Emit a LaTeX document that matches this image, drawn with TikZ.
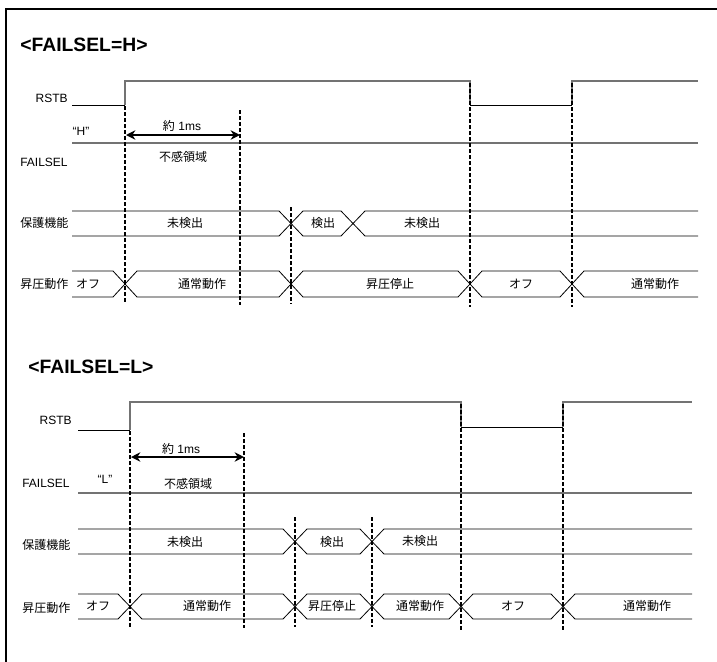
\documentclass[tikz,border=0pt]{standalone}
\usepackage{fontspec}
\setmainfont{Liberation Sans}
\newfontfamily\jp{Noto Sans CJK JP}
\usetikzlibrary{arrows.meta}
\begin{document}
\begin{tikzpicture}[x=0.75pt,y=-0.75pt,
  sig/.style={line width=0.6pt,black},
  hi/.style={line width=0.9pt,black!55},
  bus/.style={line width=0.6pt,black},
  dsh/.style={line width=1.7pt,black,dash pattern=on 3pt off 1.5pt},
  lbl/.style={font=\fontsize{9}{10}\selectfont,inner sep=0pt},
  jl/.style={font=\fontsize{9}{10}\selectfont\jp,inner sep=0pt},
  ttl/.style={font=\fontsize{14.5}{16}\selectfont\bfseries,inner sep=0pt,anchor=west},
  dim/.style={line width=1.5pt,{Stealth[length=7pt,width=7pt]}-{Stealth[length=7pt,width=7pt]}}]
\useasboundingbox (0,0) rectangle (717,661);
% frame
\draw[line width=1.6pt] (6,670) -- (6,9) -- (730,9);

% ================= FAILSEL = H =================
\node[ttl] (t1) at (20,45) {<FAILSEL=H>};
\node[lbl,anchor=east] (r1) at (68,98) {RSTB};
\node[lbl,anchor=west] (f1) at (20,162) {FAILSEL};
\node[lbl] (h1) at (81,131) {“H”};
\node[jl,anchor=west] (p1) at (20,223) {保護機能};
\node[jl,anchor=west] (s1) at (20,284) {昇圧動作};

% RSTB
\draw[sig] (72,105) -- (125,105);
\draw[hi] (125,105) -- (125,81) -- (470,81) -- (470,105);
\draw[sig] (470,105) -- (572,105);
\draw[hi] (572,105) -- (572,81) -- (698,81);
% FAILSEL
\draw[hi] (72,143) -- (698,143);

% 保護機能 bus
\draw[bus] (72,211) -- (279,211) -- (303,236) -- (341,236) -- (365,211) -- (698,211);
\draw[bus] (72,236) -- (279,236) -- (303,211) -- (341,211) -- (365,236) -- (698,236);
% 昇圧動作 bus
\draw[bus] (72,271) -- (113,271) -- (137,297) -- (279,297) -- (303,271) -- (458,271) -- (482,297) -- (560,297) -- (584,271) -- (698,271);
\draw[bus] (72,297) -- (113,297) -- (137,271) -- (279,271) -- (303,297) -- (458,297) -- (482,271) -- (560,271) -- (584,297) -- (698,297);

% dashed
\coordinate (a1t) at (125,106); \coordinate (a1b) at (125,304);
\coordinate (b1t) at (240,110); \coordinate (b1b) at (240,305);
\coordinate (c1t) at (291,207); \coordinate (c1b) at (291,304);
\coordinate (d1t) at (470,83);  \coordinate (d1b) at (470,307);
\coordinate (e1t) at (572,83);  \coordinate (e1b) at (572,307);
\foreach \p in {a1,b1,c1,d1,e1} \draw[dsh] (\p t) -- (\p b);

% dimension
\coordinate (m1l) at (126,135); \coordinate (m1r) at (240,135);
\draw[dim] (m1l) -- (m1r);
\node[lbl] (w1) at (182,126) {{\jp 約} 1ms};
\node[jl] (n1) at (183,157) {不感領域};

% bus texts
\node[jl] (u1) at (185,223) {未検出};
\node[jl] (k1) at (323,223) {検出};
\node[jl] (u2) at (422,223) {未検出};
\node[jl] (o1) at (88,284) {オフ};
\node[jl] (q1) at (202,284) {通常動作};
\node[jl] (x1) at (390,284) {昇圧停止};
\node[jl] (o2) at (521,284) {オフ};
\node[jl] (q2) at (655,284) {通常動作};

% ================= FAILSEL = L =================
\node[ttl] (t2) at (28,367) {<FAILSEL=L>};
\node[lbl,anchor=east] (r2) at (72,420) {RSTB};
\node[lbl,anchor=west] (f2) at (22,483) {FAILSEL};
\node[lbl] (h2) at (105,479) {“L”};
\node[jl,anchor=west] (p2) at (22,545) {保護機能};
\node[jl,anchor=west] (s2) at (22,608) {昇圧動作};

% RSTB
\draw[sig] (78,430) -- (130,430);
\draw[hi] (130,430) -- (130,402) -- (461,402) -- (461,427);
\draw[sig] (461,427) -- (563,427);
\draw[hi] (563,427) -- (563,402) -- (692,402);
% FAILSEL
\draw[hi] (78,493) -- (692,493);

% 保護機能 bus
\draw[bus] (78,529) -- (283,529) -- (307,554) -- (360,554) -- (384,529) -- (692,529);
\draw[bus] (78,554) -- (283,554) -- (307,529) -- (360,529) -- (384,554) -- (692,554);
% 昇圧動作 bus
\draw[bus] (78,594) -- (118,594) -- (142,619) -- (283,619) -- (307,594) -- (360,594) -- (384,619) -- (449,619) -- (473,594) -- (551,594) -- (575,619) -- (692,619);
\draw[bus] (78,619) -- (118,619) -- (142,594) -- (283,594) -- (307,619) -- (360,619) -- (384,594) -- (449,594) -- (473,619) -- (551,619) -- (575,594) -- (692,594);

% dashed
\coordinate (a2t) at (130,431); \coordinate (a2b) at (130,627);
\coordinate (b2t) at (244,433); \coordinate (b2b) at (244,628);
\coordinate (c2t) at (295,517); \coordinate (c2b) at (295,627);
\coordinate (g2t) at (372,517); \coordinate (g2b) at (372,627);
\coordinate (d2t) at (461,404); \coordinate (d2b) at (461,630);
\coordinate (e2t) at (563,404); \coordinate (e2b) at (563,630);
\foreach \p in {a2,b2,c2,g2,d2,e2} \draw[dsh] (\p t) -- (\p b);

% dimension
\coordinate (m2l) at (131,457); \coordinate (m2r) at (244,457);
\draw[dim] (m2l) -- (m2r);
\node[lbl] (w2) at (181,449) {{\jp 約} 1ms};
\node[jl] (n2) at (188,484) {不感領域};

% bus texts
\node[jl] (u3) at (185,542) {未検出};
\node[jl] (k2) at (332,542) {検出};
\node[jl] (u4) at (420,541) {未検出};
\node[jl] (o3) at (98,606) {オフ};
\node[jl] (q3) at (207,606) {通常動作};
\node[jl] (x2) at (332,606) {昇圧停止};
\node[jl] (q4) at (420,606) {通常動作};
\node[jl] (o4) at (513,606) {オフ};
\node[jl] (q5) at (647,606) {通常動作};
\end{tikzpicture}
\end{document}
